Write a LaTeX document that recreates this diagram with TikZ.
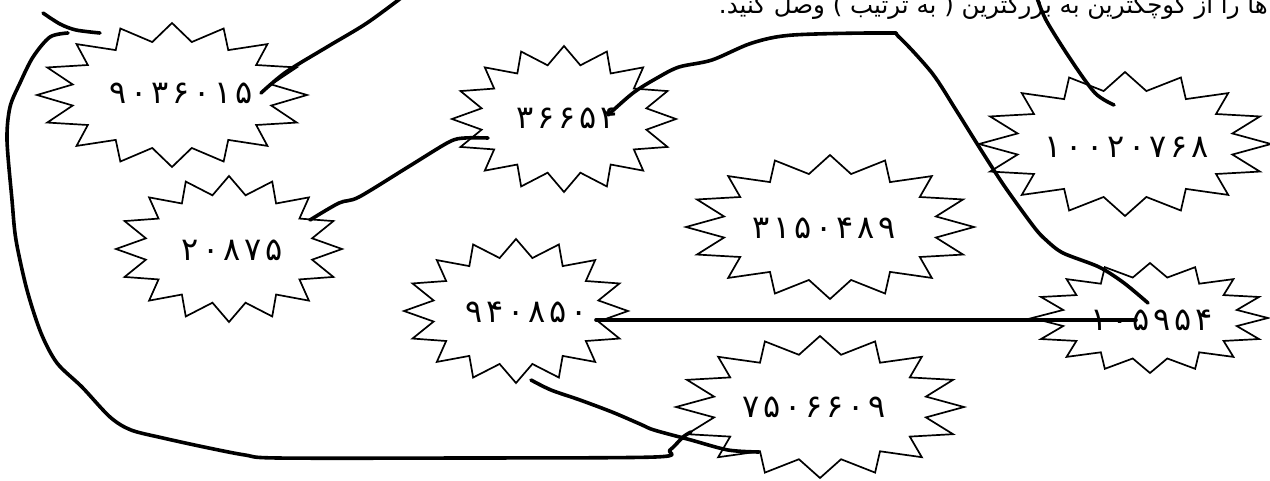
\documentclass[tikz,border=0pt]{standalone}
\usepackage{fontspec}
\newfontfamily\fa[Script=Arabic]{DejaVu Sans}
\newfontfamily\fanum[Script=Arabic, LetterSpace=12]{DejaVu Sans}
\TeXXeTstate=1
\newcommand\burst[4]{\draw[starline] plot[samples at={0,...,31}]
  ({#1+#3*(1-0.25*mod(\x,2))*cos(90+\x*11.25)},{#2+#4*(1-0.25*mod(\x,2))*sin(90+\x*11.25)}) -- cycle;}
\begin{document}
\begin{tikzpicture}[x=1pt,y=-1pt,
  starline/.style={draw=black, line width=1.7pt, line join=miter},
  pen/.style={draw=black, line width=3.6pt, line cap=round, line join=round},
  num/.style={font=\fanum\fontsize{32}{36}\selectfont, inner sep=0pt},
  title/.style={font=\fa\fontsize{24.5}{28}\selectfont, inner sep=0pt}]
\useasboundingbox (0,0) rectangle (1270,480);
\clip (0,0) rectangle (1270,480);
% stars
\burst{172}{95}{135}{72}
\burst{564}{119}{112}{73}
\burst{1125}{144}{146}{72}
\burst{229}{249}{113}{73}
\burst{830}{227}{144}{72}
\burst{516}{311}{112}{72}
\burst{1150}{318}{118}{55}
\burst{820}{407}{144}{71}
% labels
\node[title, anchor=base east] (t) at (1268,13) {\beginR ها را از کوچکترین به بزرگترین ( به ترتیب ) وصل کنید.\endR};
\node[num] (a) at (181,93) {۹۰۳۶۰۱۵};
\node[num] (b) at (567,118) {۳۶۶۵۴};
\node[num] (c) at (1127,147) {۱۰۰۲۰۷۶۸};
\node[num] (d) at (232,250) {۲۰۸۷۵};
\node[num] (e) at (824,228) {۳۱۵۰۴۸۹};
\node[num] (f) at (527,312) {۹۴۰۸۵۰};
\node[num] (g) at (1152,320) {۱۰۵۹۵۴};
\node[num] (h) at (814,407) {۷۵۰۶۶۰۹};
% connector end points
\coordinate (a1) at (261,93);
\coordinate (a2) at (405,-5);
\coordinate (b1) at (608,115);
\coordinate (b2) at (488,138);
\coordinate (c1) at (1114,105);
\coordinate (c2) at (1036,-5);
\coordinate (d1) at (310,220);
\coordinate (f1) at (596,320);
\coordinate (f2) at (531,380);
\coordinate (g1) at (1148,303);
\coordinate (g2) at (1136,320);
\coordinate (h1) at (691,432);
\coordinate (h2) at (759,452);
\coordinate (k1) at (43,13);
\coordinate (k2) at (100,33);
\coordinate (l1) at (68,33);
% connectors
\draw[pen] plot[smooth] coordinates {(k1) (60,24) (76,30) (k2)};
\draw[pen] plot[smooth] coordinates {(l1) (50,37) (33,57) (20,83) (10,107) (7,140) (12,200) (16,240) (27,290) (41,333) (57,363) (82,387) (110,417) (131,430) (163,438) (204,447) (245,455) (278,458) (460,458) (655,457) (670,450) (683,437) (h1)};
\draw[pen] plot[smooth] coordinates {(a1) (286,72) (327,47) (367,23) (a2)};
\draw[pen] plot[smooth] coordinates {(d1) (339,203) (359,197) (408,167) (449,142) (465,138) (b2)};
\draw[pen] plot[smooth] coordinates {(b1) (633,93) (657,78) (679,67) (712,60) (752,43) (793,35) (887,33) (899,37) (932,73) (956,110) (981,150) (1005,187) (1034,227) (1046,240) (1063,253) (1099,267) (1124,283) (g1)};
\draw[pen] (f1) -- (g2);
\draw[pen] plot[smooth] coordinates {(f2) (551,390) (580,400) (612,412) (640,424) (654,430) (691,440) (728,450) (h2)};
\draw[pen] plot[smooth] coordinates {(c1) (1095,93) (1071,60) (1046,20) (c2)};
\end{tikzpicture}
\end{document}
